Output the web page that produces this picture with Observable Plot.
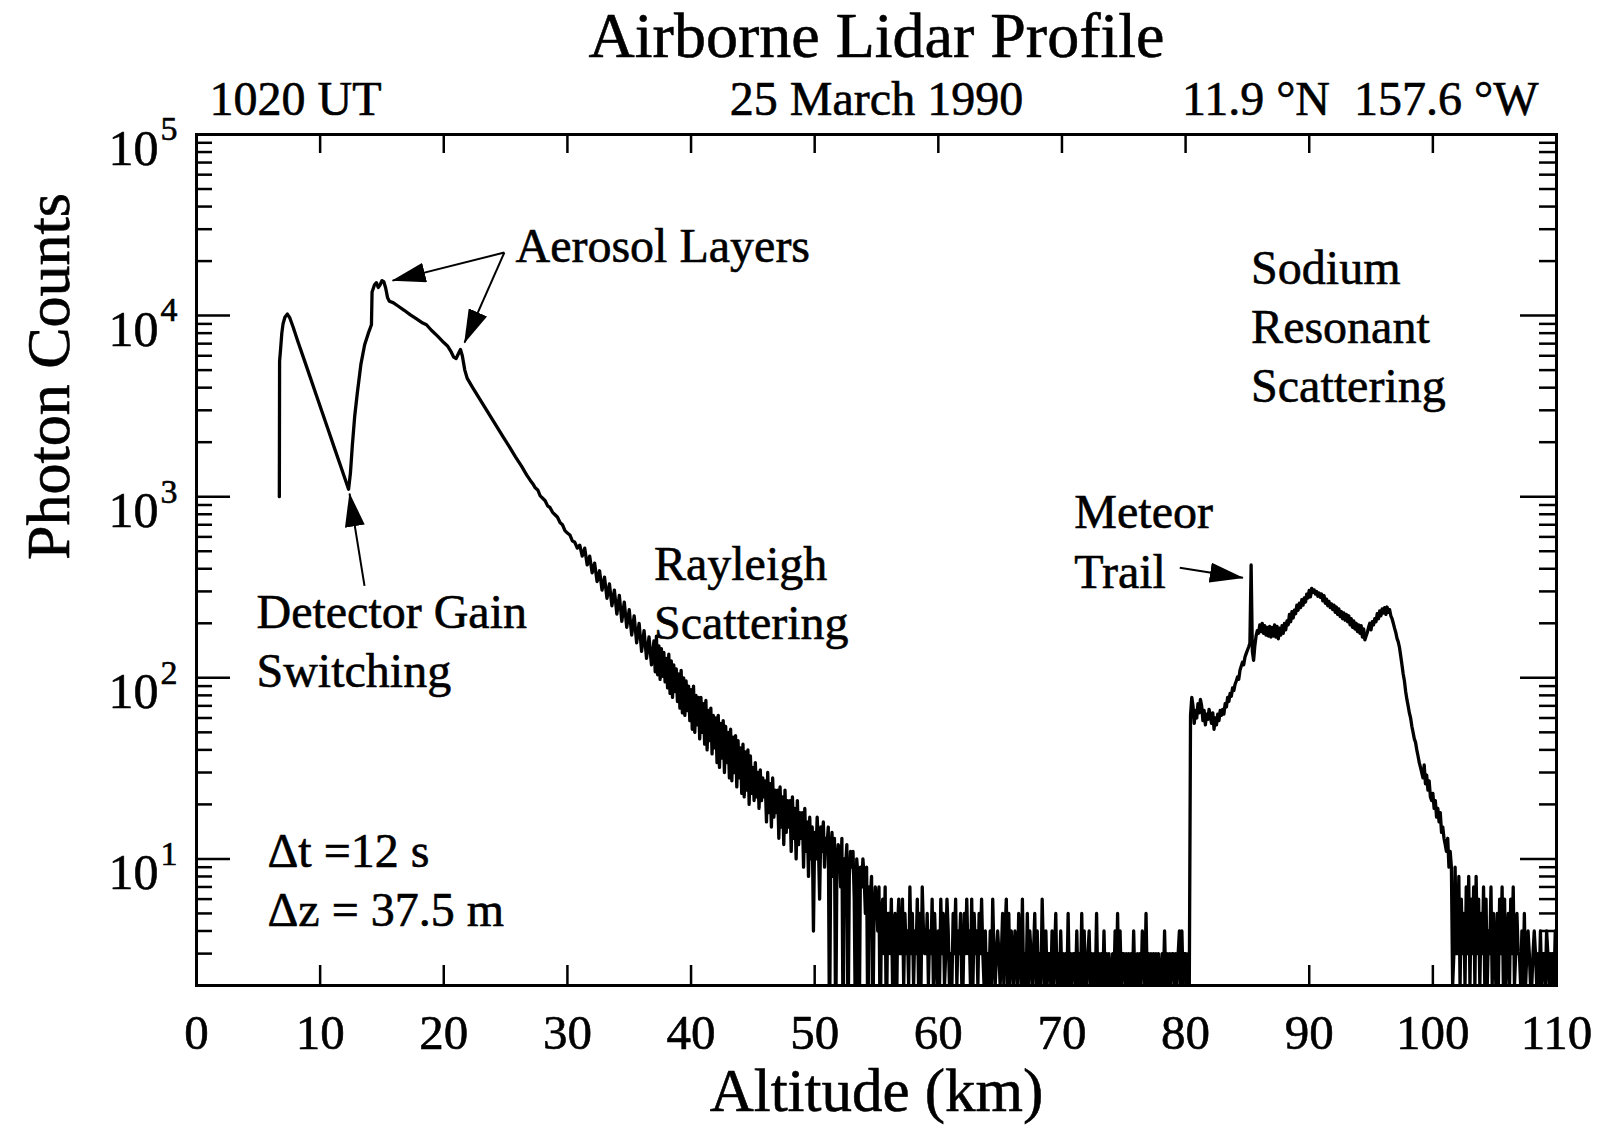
<!DOCTYPE html>
<html><head><meta charset="utf-8">
<script src="https://cdn.jsdelivr.net/npm/d3@7"></script>
<script src="https://cdn.jsdelivr.net/npm/@observablehq/plot@0.6"></script>
<style>body{margin:0;background:#fff;} svg{display:block;}</style>
</head><body><div id="chart"></div>
<script>
// ---------- DATA ----------
// Smooth lower-atmosphere part: altitude (km) and photon counts
const lowAlt = [6.7, 6.72, 6.8, 6.9, 7.0, 7.15, 7.35, 7.55, 7.8, 8.2, 8.7, 9.2, 9.7, 10.2, 10.7, 11.2, 11.7, 12.1, 12.3, 12.45, 12.6, 12.8, 13.0, 13.3, 13.6, 13.9, 14.15, 14.2, 14.4, 14.55, 14.7, 14.85, 15.0, 15.15, 15.3, 15.45, 15.6, 15.9, 16.3, 16.8, 17.3, 17.8, 18.3, 18.6, 19.0, 19.5, 20.0, 20.3, 20.6, 20.8, 21.0, 21.2, 21.35, 21.5, 21.7, 21.9, 22.3, 22.8, 23.3, 23.8, 24.3, 24.8, 25.3, 25.8, 26.3, 26.7];
const lowCount = [1000, 5600, 6500, 8000, 9000, 9800, 10200, 9700, 8700, 7200, 5730, 4560, 3620, 2880, 2290, 1820, 1450, 1205, 1100, 1350, 1900, 2800, 3700, 5400, 6900, 8000, 8900, 13500, 14800, 15200, 14300, 14800, 15600, 15400, 14200, 12600, 12000, 11800, 11300, 10700, 10100, 9600, 9100, 8900, 8300, 7700, 7100, 6800, 6300, 5900, 5800, 6200, 6500, 6000, 5000, 4500, 4040, 3560, 3130, 2760, 2430, 2140, 1890, 1660, 1470, 1320];

// Rayleigh scattering, 27.0 - 36.8 km every 0.2 km
const rayleighStart = 27.0, rayleighStep = 0.2;
const rayleighCounts = [
 1230,1180,1120,1090,1010,980,950,890,870,820,
 795,770,720,700,650,630,615,570,560,520,
 540,470,520,420,470,380,430,340,390,305,
 360,275,330,250,305,225,285,205,262,190,
 238,172,220,156,200,140,182,128,168,118];

// Noisy Rayleigh tail, 37.0 - 56.9 km every 0.1 km
const tailStart = 37.0, tailStep = 0.1;
const tailCounts = [
 160,108,170,104,150,98,145,102,138,95,
 128,88,135,82,124,78,118,84,112,74,
 105,68,110,64,100,62,96,66,90,58,
 86,52,90,50,80,55,78,46,78,50,
 72,43,75,40,66,45,68,38,62,41,
 60,34,62,32,56,36,58,30,54,34,
 50,28,52,27,47,30,48,25,45,28,
 41,23,43,22,39,24,40,20,37,23,
 32,21,34,22,30,19,31,21,28,22,
 27,16,30,18,26,15,28,17,24,18,
 24,13,25,15,22,12,24,14,21,15,
 21,11,22,13,19,10,21,12,18,13,
 18,9,19,11,16,8,17,10,15,4,
 14,10,17,12,6,15,11,16,9,13,
 12,15,1,11,14,8,13,1,10,12,
 11,7,13,1,10,9,12,1,8,11,
 9,11,6,1,10,8,1,9,7,10,
 8,5,9,1,7,6,8,1,5,7,
 6,4,7,1,5,6,3,7,1,5,
 5,3,6,2,4,5,1,4,6,3];

// Background floor, 57.0 - 80.3 km every 0.1 km (one digit per bin)
const floorStart = 57.0, floorStep = 0.1;
const floorCounts = "3625342735 2436252743 3524362532 4263523642 3253624352 2536342625 3425363242 3242632343 2352462524 3243253262 3252432352 4232632423 3242352324 2323252323 3242325242 2342323252 3232423232 2324252423 3232323242 2323243252 3232323232 2324232323 3232342423 3232";

// Sodium resonant layer, 80.4 - 101.5 km every 0.1 km
const sodiumStart = 80.4, sodiumStep = 0.1;
const sodiumCounts = [
 62,78,70,56,66,60,
 72,64,76,70,58,66,55,63,59,67,
 61,56,64,52,60,55,63,58,66,62,
 67,63,72,69,78,74,82,79,88,85,
 92,96,101,98,110,116,122,118,130,136,
 142,148,155,420,140,125,150,170,182,176,
 196,180,200,176,194,172,190,170,192,168,
 190,170,196,168,192,164,188,172,194,176,
 200,184,206,196,224,204,232,214,236,226,
 252,236,258,244,270,252,276,262,290,276,
 304,280,312,296,306,290,300,282,294,278,
 290,266,284,258,272,250,264,244,256,238,
 252,230,246,224,240,218,232,212,228,208,
 224,204,220,196,212,190,206,186,200,180,
 196,176,194,168,186,162,170,178,190,200,
 184,204,196,212,204,226,212,234,220,240,
 228,244,224,246,230,238,220,212,200,188,
 178,165,158,147,132,118,105,96,84,76,
 70,64,60,54,50,46,44,40,37,34,
 32,30,28,33,26,29,24,27,22,21,
 23,19,21,17,19,16,18,14,15,13,
 12,11,13,9,11,9];

// Upper background, 101.6 - 109.9 km every 0.1 km
const upperStart = 101.6, upperStep = 0.1;
const upperCounts = "2393 3826352738 2637283625 3726243725 3252637262 3526372353 3242523432 2343232423 3243232324";

// Axis ticks
const xTicks = [0, 10, 20, 30, 40, 50, 60, 70, 80, 90, 100, 110];
const yExponents = [1, 2, 3, 4, 5];

// Texts
const titleText = "Airborne Lidar Profile";
const headerLeft = "1020 UT";
const headerMid = "25 March 1990";
const headerRight = "11.9 \u00b0N\u00a0\u00a0157.6 \u00b0W";
const xLabel = "Altitude (km)";
const yLabel = "Photon Counts";

// Annotations (anchor in data units)
const notes = [
  {alt: 25.8, count: 24000, text: "Aerosol Layers", lh: 1},
  {alt: 85.3, count: 9000, text: "Sodium\nResonant\nScattering", lh: 1.23},
  {alt: 71.0, count: 586, text: "Meteor\nTrail", lh: 1.25},
  {alt: 37.0, count: 303, text: "Rayleigh\nScattering", lh: 1.23},
  {alt: 4.85, count: 164, text: "Detector Gain\nSwitching", lh: 1.23},
  {alt: 5.74, count: 7.85, text: "\u0394t =12 s\n\u0394z = 37.5 m", lh: 1.23}
];
const arrows = [
  {x1: 24.9, y1: 22300, x2: 15.86, y2: 15600},
  {x1: 24.9, y1: 22300, x2: 21.68, y2: 7100},
  {x1: 79.53, y1: 405, x2: 84.63, y2: 357},
  {x1: 13.59, y1: 322, x2: 12.38, y2: 1040}
];

// ---------- BUILD ----------
const profile = [];
lowAlt.forEach((a, i) => profile.push({alt: a, count: lowCount[i]}));
function addSeg(start, step, counts) {
  counts.forEach((c, i) => profile.push({alt: +(start + i * step).toFixed(3), count: c}));
}
const digits = s => Array.from(s.replace(/\s/g, ""), Number);
addSeg(rayleighStart, rayleighStep, rayleighCounts);
addSeg(tailStart, tailStep, tailCounts);
addSeg(floorStart, floorStep, digits(floorCounts));
addSeg(sodiumStart, sodiumStep, sodiumCounts);
addSeg(upperStart, upperStep, digits(upperCounts));

const yMajor = yExponents.map(e => Math.pow(10, e));
const yMinor = [];
for (let k = 0; k <= 4; k++) for (let m = 2; m <= 9; m++) {
  const v = m * Math.pow(10, k);
  if (v >= 2 && v <= 1e5) yMinor.push(v);
}

const W = 1602, H = 1126;
const mL = 196, mR = 46, mT = 134, mB = 141;
const iw = W - mL - mR, ih = H - mT - mB;
const font = "Liberation Serif, Times New Roman, serif";
const ink = {fill: "black", stroke: "black", strokeWidth: 0.6, lineAnchor: "middle"};

const chart = Plot.plot({
  width: W, height: H,
  marginLeft: mL, marginRight: mR, marginTop: mT, marginBottom: mB,
  x: {domain: [0, 110], axis: null},
  y: {type: "log", domain: [2, 1e5], axis: null},
  style: {fontFamily: font, background: "white", color: "black", overflow: "visible"},
  marks: [
    Plot.line(profile, {x: "alt", y: "count", stroke: "black", strokeWidth: 3.3, strokeLinejoin: "round", clip: true}),
    // ticks (inward)
    Plot.ruleX(xTicks, {x: d => d, insetTop: ih - 20, stroke: "black", strokeWidth: 2.5}),
    Plot.ruleX(xTicks, {x: d => d, insetBottom: ih - 19, stroke: "black", strokeWidth: 2.5}),
    Plot.ruleY(yMajor, {y: d => d, insetRight: iw - 34, stroke: "black", strokeWidth: 2.5}),
    Plot.ruleY(yMinor, {y: d => d, insetRight: iw - 16, stroke: "black", strokeWidth: 2.5}),
    Plot.ruleY(yMajor, {y: d => d, insetLeft: iw - 36, stroke: "black", strokeWidth: 2.5}),
    Plot.ruleY(yMinor, {y: d => d, insetLeft: iw - 17, stroke: "black", strokeWidth: 2.5}),
    Plot.frame({stroke: "black", strokeWidth: 3}),
    // tick labels
    Plot.text(xTicks, {x: d => d, text: d => String(d), frameAnchor: "bottom", dy: 48, fontSize: 49, ...ink}),
    Plot.text(yExponents, {y: e => Math.pow(10, e), text: () => "10", frameAnchor: "left", textAnchor: "end", dx: -38, dy: 14, fontSize: 50, ...ink}),
    Plot.text(yExponents, {y: e => Math.pow(10, e), text: e => String(e), frameAnchor: "left", textAnchor: "start", dx: -36, dy: -5, fontSize: 34, ...ink}),
    // axis titles
    Plot.text([xLabel], {text: d => d, frameAnchor: "bottom", dy: 106, fontSize: 61, ...ink}),
    Plot.text([yLabel], {text: d => d, frameAnchor: "left", dx: -147, rotate: -90, fontSize: 62, ...ink}),
    // title + header line
    Plot.text([titleText], {text: d => d, frameAnchor: "top", dy: -98, fontSize: 64, ...ink}),
    Plot.text([headerLeft], {text: d => d, frameAnchor: "top-left", textAnchor: "start", dx: 13, dy: -35, fontSize: 48, ...ink}),
    Plot.text([headerMid], {text: d => d, frameAnchor: "top", dy: -35, fontSize: 48, ...ink}),
    Plot.text([headerRight], {text: d => d, frameAnchor: "top-right", textAnchor: "end", dx: -18, dy: -35, fontSize: 48, ...ink}),
    // annotations
    Plot.link(arrows, {x1: "x1", y1: "y1", x2: "x2", y2: "y2", stroke: "black", strokeWidth: 2}),
    ...notes.map(n => Plot.text([n], {x: "alt", y: "count", text: "text", textAnchor: "start", lineHeight: n.lh, fontSize: 48, ...ink}))
  ]
});

// filled triangular arrowheads
const svg = d3.select(chart);
const defs = svg.insert("defs", ":first-child");
defs.append("marker").attr("id", "ahead")
  .attr("viewBox", "0 -10 34 20").attr("markerWidth", 34).attr("markerHeight", 20)
  .attr("refX", 33).attr("refY", 0).attr("orient", "auto").attr("markerUnits", "userSpaceOnUse")
  .append("path").attr("d", "M0,-10L34,0L0,10Z").attr("fill", "black");
svg.selectAll('g[aria-label="link"] path').attr("marker-end", "url(#ahead)");
svg.selectAll("text").style("white-space", "pre");

document.getElementById("chart").appendChild(chart);
</script></body></html>
